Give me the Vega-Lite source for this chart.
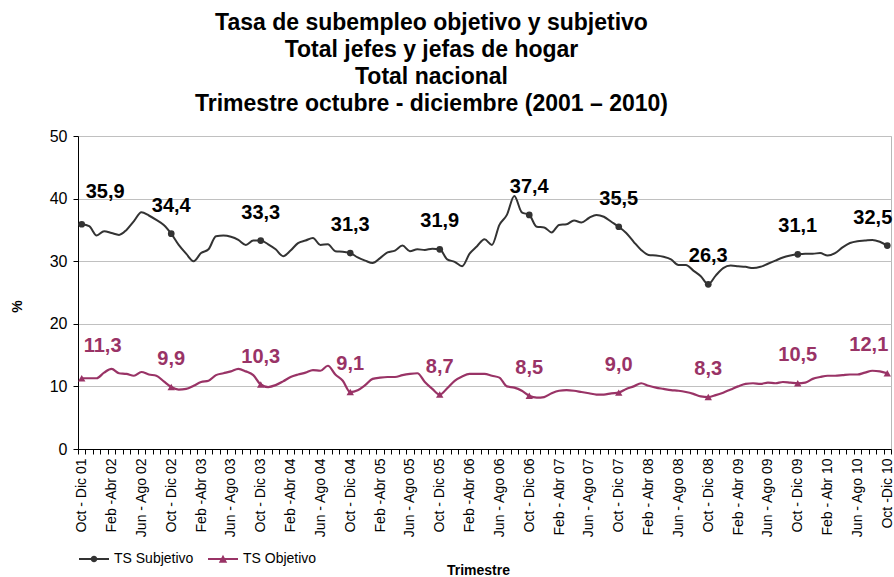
{
  "$schema": "https://vega.github.io/schema/vega-lite/v6.json",
  "width": 813,
  "height": 313,
  "autosize": {"type": "none"},
  "padding": {"left": 78, "top": 136, "right": 3, "bottom": 128},
  "config": {
    "font": "Liberation Sans",
    "locale": {"number": {"decimal": ",", "thousands": ".", "grouping": [3], "currency": ["", " €"]}},
    "view": {"stroke": "#b8b8b8", "strokeWidth": 1},
    "axis": {"domainColor": "#000000", "tickColor": "#000000", "labelColor": "#000000", "titleColor": "#000000"}
  },
  "title": {
    "text": ["Tasa de subempleo objetivo y subjetivo", "Total jefes y jefas de hogar", "Total nacional", "Trimestre octubre - diciembre (2001 – 2010)"],
    "fontSize": 23,
    "fontWeight": "bold",
    "lineHeight": 27,
    "anchor": "middle",
    "frame": "group",
    "dx": -53,
    "offset": 12,
    "color": "#000000"
  },
  "data": {
    "values": [
      {"t": "Oct - Dic 01", "TS Subjetivo": 35.9, "TS Objetivo": 11.3},
      {"t": "Nov - Ene 02", "TS Subjetivo": 35.6, "TS Objetivo": 11.3},
      {"t": "Dic - Feb 02", "TS Subjetivo": 34.1, "TS Objetivo": 11.3},
      {"t": "Ene - Mar 02", "TS Subjetivo": 34.8, "TS Objetivo": 12.2},
      {"t": "Feb -Abr 02", "TS Subjetivo": 34.5, "TS Objetivo": 12.8},
      {"t": "Mar - May 02", "TS Subjetivo": 34.2, "TS Objetivo": 12.1},
      {"t": "Abr - Jun 02", "TS Subjetivo": 35.0, "TS Objetivo": 12.0},
      {"t": "May - Jul 02", "TS Subjetivo": 36.4, "TS Objetivo": 11.7},
      {"t": "Jun - Ago 02", "TS Subjetivo": 37.8, "TS Objetivo": 12.3},
      {"t": "Jul - Sep 02", "TS Subjetivo": 37.3, "TS Objetivo": 11.9},
      {"t": "Ago - Oct 02", "TS Subjetivo": 36.6, "TS Objetivo": 11.7},
      {"t": "Sep - Nov 02", "TS Subjetivo": 35.8, "TS Objetivo": 10.8},
      {"t": "Oct - Dic 02", "TS Subjetivo": 34.4, "TS Objetivo": 9.9},
      {"t": "Nov - Ene 03", "TS Subjetivo": 32.6, "TS Objetivo": 9.5},
      {"t": "Dic - Feb 03", "TS Subjetivo": 31.2, "TS Objetivo": 9.6},
      {"t": "Ene - Mar 03", "TS Subjetivo": 30.0, "TS Objetivo": 10.1},
      {"t": "Feb -Abr 03", "TS Subjetivo": 31.3, "TS Objetivo": 10.7},
      {"t": "Mar - May 03", "TS Subjetivo": 31.9, "TS Objetivo": 10.9},
      {"t": "Abr - Jun 03", "TS Subjetivo": 34.0, "TS Objetivo": 11.8},
      {"t": "May - Jul 03", "TS Subjetivo": 34.1, "TS Objetivo": 12.1},
      {"t": "Jun - Ago 03", "TS Subjetivo": 33.9, "TS Objetivo": 12.4},
      {"t": "Jul - Sep 03", "TS Subjetivo": 33.4, "TS Objetivo": 12.8},
      {"t": "Ago - Oct 03", "TS Subjetivo": 32.6, "TS Objetivo": 12.4},
      {"t": "Sep - Nov 03", "TS Subjetivo": 33.3, "TS Objetivo": 11.8},
      {"t": "Oct - Dic 03", "TS Subjetivo": 33.3, "TS Objetivo": 10.3},
      {"t": "Nov - Ene 04", "TS Subjetivo": 32.7, "TS Objetivo": 9.9},
      {"t": "Dic - Feb 04", "TS Subjetivo": 31.9, "TS Objetivo": 10.2},
      {"t": "Ene - Mar 04", "TS Subjetivo": 30.8, "TS Objetivo": 10.8},
      {"t": "Feb -Abr 04", "TS Subjetivo": 31.7, "TS Objetivo": 11.5},
      {"t": "Mar - May 04", "TS Subjetivo": 32.9, "TS Objetivo": 11.9},
      {"t": "Abr - Jun 04", "TS Subjetivo": 33.3, "TS Objetivo": 12.2},
      {"t": "May - Jul 04", "TS Subjetivo": 33.7, "TS Objetivo": 12.6},
      {"t": "Jun - Ago 04", "TS Subjetivo": 32.6, "TS Objetivo": 12.5},
      {"t": "Jul - Sep 04", "TS Subjetivo": 32.7, "TS Objetivo": 13.3},
      {"t": "Ago - Oct 04", "TS Subjetivo": 31.6, "TS Objetivo": 11.9},
      {"t": "Sep - Nov 04", "TS Subjetivo": 31.5, "TS Objetivo": 10.9},
      {"t": "Oct - Dic 04", "TS Subjetivo": 31.3, "TS Objetivo": 9.1},
      {"t": "Nov - Ene 05", "TS Subjetivo": 30.6, "TS Objetivo": 9.4},
      {"t": "Dic - Feb 05", "TS Subjetivo": 30.1, "TS Objetivo": 10.2},
      {"t": "Ene - Mar 05", "TS Subjetivo": 29.7, "TS Objetivo": 11.2},
      {"t": "Feb -Abr 05", "TS Subjetivo": 30.5, "TS Objetivo": 11.4},
      {"t": "Mar - May 05", "TS Subjetivo": 31.4, "TS Objetivo": 11.5},
      {"t": "Abr - Jun 05", "TS Subjetivo": 31.7, "TS Objetivo": 11.5},
      {"t": "May - Jul 05", "TS Subjetivo": 32.5, "TS Objetivo": 11.8},
      {"t": "Jun - Ago 05", "TS Subjetivo": 31.6, "TS Objetivo": 12.0},
      {"t": "Jul - Sep 05", "TS Subjetivo": 31.9, "TS Objetivo": 12.1},
      {"t": "Ago - Oct 05", "TS Subjetivo": 31.8, "TS Objetivo": 10.7},
      {"t": "Sep - Nov 05", "TS Subjetivo": 32.0, "TS Objetivo": 9.6},
      {"t": "Oct - Dic 05", "TS Subjetivo": 31.9, "TS Objetivo": 8.7},
      {"t": "Nov - Ene 06", "TS Subjetivo": 30.3, "TS Objetivo": 9.7},
      {"t": "Dic - Feb 06", "TS Subjetivo": 29.9, "TS Objetivo": 10.9},
      {"t": "Ene - Mar 06", "TS Subjetivo": 29.2, "TS Objetivo": 11.6},
      {"t": "Feb -Abr 06", "TS Subjetivo": 31.2, "TS Objetivo": 12.0},
      {"t": "Mar - May 06", "TS Subjetivo": 32.4, "TS Objetivo": 12.0},
      {"t": "Abr - Jun 06", "TS Subjetivo": 33.5, "TS Objetivo": 12.0},
      {"t": "May - Jul 06", "TS Subjetivo": 32.6, "TS Objetivo": 11.7},
      {"t": "Jun - Ago 06", "TS Subjetivo": 35.8, "TS Objetivo": 11.4},
      {"t": "Jul - Sep 06", "TS Subjetivo": 37.4, "TS Objetivo": 10.0},
      {"t": "Ago - Oct 06", "TS Subjetivo": 40.4, "TS Objetivo": 9.8},
      {"t": "Sep - Nov 06", "TS Subjetivo": 37.8, "TS Objetivo": 9.3},
      {"t": "Oct - Dic 06", "TS Subjetivo": 37.4, "TS Objetivo": 8.5},
      {"t": "Nov - Ene 07", "TS Subjetivo": 35.5, "TS Objetivo": 8.2},
      {"t": "Dic - Feb 07", "TS Subjetivo": 35.4, "TS Objetivo": 8.3},
      {"t": "Ene - Mar 07", "TS Subjetivo": 34.6, "TS Objetivo": 8.9},
      {"t": "Feb - Abr 07", "TS Subjetivo": 35.8, "TS Objetivo": 9.3},
      {"t": "Mar - May 07", "TS Subjetivo": 35.9, "TS Objetivo": 9.4},
      {"t": "Abr - Jun 07", "TS Subjetivo": 36.5, "TS Objetivo": 9.3},
      {"t": "May - Jul 07", "TS Subjetivo": 36.2, "TS Objetivo": 9.1},
      {"t": "Jun - Ago 07", "TS Subjetivo": 36.9, "TS Objetivo": 8.9},
      {"t": "Jul - Sep 07", "TS Subjetivo": 37.4, "TS Objetivo": 8.7},
      {"t": "Ago - Oct 07", "TS Subjetivo": 37.1, "TS Objetivo": 8.7},
      {"t": "Sep - Nov 07", "TS Subjetivo": 36.3, "TS Objetivo": 8.9},
      {"t": "Oct - Dic 07", "TS Subjetivo": 35.5, "TS Objetivo": 9.0},
      {"t": "Nov - Ene 08", "TS Subjetivo": 34.5, "TS Objetivo": 9.6},
      {"t": "Dic - Feb 08", "TS Subjetivo": 33.1, "TS Objetivo": 10.0},
      {"t": "Ene - Mar 08", "TS Subjetivo": 31.8, "TS Objetivo": 10.5},
      {"t": "Feb - Abr 08", "TS Subjetivo": 31.0, "TS Objetivo": 10.1},
      {"t": "Mar - May 08", "TS Subjetivo": 30.9, "TS Objetivo": 9.8},
      {"t": "Abr - Jun 08", "TS Subjetivo": 30.7, "TS Objetivo": 9.6},
      {"t": "May - Jul 08", "TS Subjetivo": 30.3, "TS Objetivo": 9.4},
      {"t": "Jun - Ago 08", "TS Subjetivo": 29.4, "TS Objetivo": 9.3},
      {"t": "Jul - Sep 08", "TS Subjetivo": 29.4, "TS Objetivo": 9.1},
      {"t": "Ago - Oct 08", "TS Subjetivo": 28.5, "TS Objetivo": 8.8},
      {"t": "Sep - Nov 08", "TS Subjetivo": 27.6, "TS Objetivo": 8.4},
      {"t": "Oct - Dic  08", "TS Subjetivo": 26.3, "TS Objetivo": 8.3},
      {"t": "Nov - Ene 09", "TS Subjetivo": 27.7, "TS Objetivo": 8.6},
      {"t": "Dic - Feb 09", "TS Subjetivo": 28.9, "TS Objetivo": 9.0},
      {"t": "Ene - Mar 09", "TS Subjetivo": 29.3, "TS Objetivo": 9.5},
      {"t": "Feb - Abr 09", "TS Subjetivo": 29.2, "TS Objetivo": 10.0},
      {"t": "Mar - May 09", "TS Subjetivo": 29.1, "TS Objetivo": 10.4},
      {"t": "Abr - Jun 09", "TS Subjetivo": 28.9, "TS Objetivo": 10.5},
      {"t": "May - Jul 09", "TS Subjetivo": 29.1, "TS Objetivo": 10.4},
      {"t": "Jun - Ago 09", "TS Subjetivo": 29.6, "TS Objetivo": 10.6},
      {"t": "Jul - Sep 09", "TS Subjetivo": 30.1, "TS Objetivo": 10.5},
      {"t": "Ago - Oct 09", "TS Subjetivo": 30.6, "TS Objetivo": 10.7},
      {"t": "Sep - Nov 09", "TS Subjetivo": 30.9, "TS Objetivo": 10.6},
      {"t": "Oct - Dic  09", "TS Subjetivo": 31.1, "TS Objetivo": 10.5},
      {"t": "Nov - Ene 10", "TS Subjetivo": 31.2, "TS Objetivo": 10.6},
      {"t": "Dic - Feb 10", "TS Subjetivo": 31.2, "TS Objetivo": 11.2},
      {"t": "Ene - Mar 10", "TS Subjetivo": 31.3, "TS Objetivo": 11.5},
      {"t": "Feb - Abr 10", "TS Subjetivo": 30.9, "TS Objetivo": 11.7},
      {"t": "Mar - May 10", "TS Subjetivo": 31.3, "TS Objetivo": 11.7},
      {"t": "Abr - Jun 10", "TS Subjetivo": 32.2, "TS Objetivo": 11.8},
      {"t": "May - Jul 10", "TS Subjetivo": 32.9, "TS Objetivo": 11.9},
      {"t": "Jun - Ago 10", "TS Subjetivo": 33.2, "TS Objetivo": 11.9},
      {"t": "Jul - Sep 10", "TS Subjetivo": 33.3, "TS Objetivo": 12.2},
      {"t": "Ago - Oct 10", "TS Subjetivo": 33.4, "TS Objetivo": 12.5},
      {"t": "Sep - Nov 10", "TS Subjetivo": 33.1, "TS Objetivo": 12.4},
      {"t": "Oct -Dic 10", "TS Subjetivo": 32.5, "TS Objetivo": 12.1}
    ]
  },
  "transform": [{"fold": ["TS Subjetivo", "TS Objetivo"], "as": ["serie", "valor"]}],
  "encoding": {
    "x": {
      "field": "t",
      "type": "ordinal",
      "sort": null,
      "scale": {"type": "band", "paddingInner": 0, "paddingOuter": 0},
      "axis": {
        "title": "Trimestre",
        "titleFontSize": 14,
        "titleFontWeight": "bold",
        "titleX": 400,
        "titleY": 121,
        "titleAlign": "center",
        "titleBaseline": "middle",
        "labelAngle": -90,
        "labelFontSize": 14,
        "labelPadding": 4,
        "labelOverlap": false,
        "labelExpr": "indexof(['Oct','Feb','Jun'], substring(datum.label,0,3)) >= 0 ? datum.label : ''",
        "tickBand": "extent",
        "tickSize": 5,
        "grid": false
      }
    },
    "y": {
      "field": "valor",
      "type": "quantitative",
      "scale": {"domain": [0, 50], "nice": false},
      "axis": {
        "title": "%",
        "titleFontSize": 14,
        "titleFontWeight": "bold",
        "titleX": -61,
        "titleY": 170,
        "titleAlign": "center",
        "titleBaseline": "middle",
        "values": [0, 10, 20, 30, 40, 50],
        "labelFontSize": 16,
        "labelPadding": 6,
        "tickSize": 5,
        "grid": true,
        "gridColor": "#c0c0c0",
        "gridWidth": 1
      }
    }
  },
  "layer": [
    {
      "transform": [{"filter": "datum.serie == 'TS Subjetivo'"}],
      "mark": {"type": "line", "strokeWidth": 2, "color": "#333333", "interpolate": "monotone"}
    },
    {
      "transform": [{"filter": "datum.serie == 'TS Objetivo'"}],
      "mark": {"type": "line", "strokeWidth": 2.2, "color": "#993366", "interpolate": "monotone"}
    },
    {
      "transform": [{"filter": "substring(datum.t, 0, 3) == 'Oct' && datum.serie == 'TS Subjetivo'"}],
      "mark": {"type": "point", "shape": "circle", "filled": true, "size": 45, "opacity": 1, "color": "#333333"}
    },
    {
      "transform": [{"filter": "substring(datum.t, 0, 3) == 'Oct' && datum.serie == 'TS Objetivo'"}],
      "mark": {"type": "point", "shape": "triangle-up", "filled": true, "size": 55, "opacity": 1, "color": "#993366"}
    },
    {
      "transform": [{"filter": "substring(datum.t, 0, 3) == 'Oct' && datum.serie == 'TS Subjetivo'"}],
      "mark": {
        "type": "text",
        "fontSize": 20,
        "fontWeight": "bold",
        "baseline": "middle",
        "color": "#000000",
        "dy": {"expr": "datum.t == 'Oct - Dic 01' ? -32 : -28"},
        "align": {"expr": "datum.t == 'Oct - Dic 01' ? 'left' : datum.t == 'Oct -Dic 10' ? 'right' : 'center'"},
        "dx": {"expr": "datum.t == 'Oct - Dic 01' ? 4 : datum.t == 'Oct -Dic 10' ? 5 : 0"}
      },
      "encoding": {"text": {"field": "valor", "type": "quantitative", "format": ".1f"}}
    },
    {
      "transform": [{"filter": "substring(datum.t, 0, 3) == 'Oct' && datum.serie == 'TS Objetivo'"}],
      "mark": {
        "type": "text",
        "fontSize": 20,
        "fontWeight": "bold",
        "baseline": "middle",
        "color": "#993366",
        "dy": {"expr": "datum.t == 'Oct - Dic 01' ? -32 : -28"},
        "align": {"expr": "datum.t == 'Oct - Dic 01' ? 'left' : datum.t == 'Oct -Dic 10' ? 'right' : 'center'"},
        "dx": {"expr": "datum.t == 'Oct - Dic 01' ? 2 : datum.t == 'Oct -Dic 10' ? 1 : 0"}
      },
      "encoding": {"text": {"field": "valor", "type": "quantitative", "format": ".1f"}}
    },
    {
      "mark": {"type": "point", "filled": true, "opacity": 0},
      "encoding": {
        "fill": {
          "field": "serie",
          "type": "nominal",
          "scale": {"domain": ["TS Subjetivo", "TS Objetivo"], "range": ["#333333", "#993366"]},
          "legend": {
            "title": null,
            "orient": "none",
            "legendX": 6,
            "legendY": 413,
            "direction": "horizontal",
            "labelFontSize": 14,
            "labelColor": "#000000",
            "labelOffset": 10,
            "symbolSize": 400,
            "symbolOpacity": 1,
            "symbolStrokeWidth": 0,
            "columnPadding": 14,
            "padding": 0
          }
        },
        "shape": {
          "field": "serie",
          "type": "nominal",
          "scale": {
            "domain": ["TS Subjetivo", "TS Objetivo"],
            "range": [
              "M-1.5,-0.1H1.5V0.1H-1.5Z M-0.33,0A0.33,0.33 0 1,1 0.33,0A0.33,0.33 0 1,1 -0.33,0Z",
              "M-1.5,-0.1H1.5V0.1H-1.5Z M0,-0.42L0.42,0.38H-0.42Z"
            ]
          },
          "legend": {
            "title": null,
            "orient": "none",
            "legendX": 6,
            "legendY": 413,
            "direction": "horizontal",
            "labelFontSize": 14,
            "labelColor": "#000000",
            "labelOffset": 10,
            "symbolSize": 400,
            "symbolOpacity": 1,
            "symbolStrokeWidth": 0,
            "columnPadding": 14,
            "padding": 0
          }
        }
      }
    }
  ]
}
